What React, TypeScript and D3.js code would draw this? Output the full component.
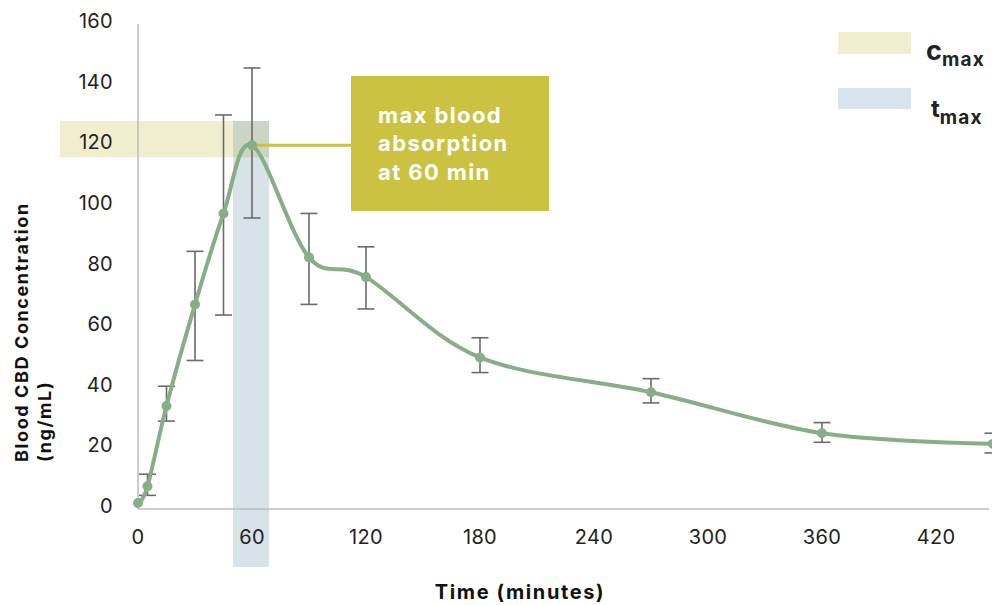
import React from "react";
import * as d3 from "d3";

// sampling times (minutes) and mean blood CBD (ng/mL)
const timeMin = [0, 5, 15, 30, 45, 60, 90, 120, 180, 270, 360, 450];
const meanConc = [2, 7.5, 34, 67.5, 97.5, 120, 83, 76.5, 50, 38.5, 25, 21.5];
const errUpper = [2, 11.5, 40.5, 85, 130, 145.5, 97.5, 86.5, 56.5, 43, 28.5, 25];
const errLower = [2, 4.5, 29, 49, 64, 96, 67.5, 66, 45, 35, 22, 18.5];

const xTicks = [0, 60, 120, 180, 240, 300, 360, 420];
const yTicks = [0, 20, 40, 60, 80, 100, 120, 140, 160];

const cmaxBand = [116, 128];
const tmaxBand = [50, 69];
const peakTime = 60;
const peakConc = 120;

const calloutLines = ["max blood", "absorption", "at 60 min"];

const WIDTH = 992;
const HEIGHT = 605;
const FONT = "Inter, 'Open Sans', sans-serif";

export default function App() {
  const x = d3.scaleLinear().domain([0, 450]).range([138, 993]);
  const y = d3.scaleLinear().domain([0, 160]).range([509, 24]);

  const pts = timeMin.map((t, i) => ({ t, v: meanConc[i], hi: errUpper[i], lo: errLower[i] }));

  const line = d3
    .line<{ t: number; v: number }>()
    .x((d) => x(d.t))
    .y((d) => y(d.v))
    .curve(d3.curveCardinal.tension(0));

  const green = "#88ad87";
  const olive = "#cbc242";

  return (
    <div style={{ position: "absolute", left: 0, top: 0 }}>
      <svg width={WIDTH} height={HEIGHT} style={{ display: "block" }} fontFamily={FONT}>
        <rect width={WIDTH} height={HEIGHT} fill="#fff" />

        {/* cmax band */}
        <rect
          x={60}
          y={y(cmaxBand[1])}
          width={x(tmaxBand[1]) - 60}
          height={y(cmaxBand[0]) - y(cmaxBand[1])}
          fill="#f1edcf"
        />
        {/* tmax band */}
        <rect
          x={x(tmaxBand[0])}
          y={y(cmaxBand[1])}
          width={x(tmaxBand[1]) - x(tmaxBand[0])}
          height={567 - y(cmaxBand[1])}
          fill="#52879f"
          opacity={0.23}
        />

        {/* axes */}
        <line x1={x(0)} x2={x(0)} y1={y(160)} y2={y(0)} stroke="#bdbdbd" strokeWidth={1.5} />
        <line x1={x(0)} x2={989} y1={y(0)} y2={y(0)} stroke="#bdbdbd" strokeWidth={1.5} />

        {yTicks.map((t) => (
          <text key={t} x={113} y={y(t) - 3} dy="0.35em" textAnchor="end" fontSize={20} letterSpacing={0.3} fill="#222">
            {t}
          </text>
        ))}
        {xTicks.map((t) => (
          <text key={t} x={x(t)} y={537} dy="0.35em" textAnchor="middle" fontSize={20} letterSpacing={0.3} fill="#222">
            {t}
          </text>
        ))}

        {/* connector + callout */}
        <line x1={x(peakTime)} x2={351} y1={y(peakConc)} y2={y(peakConc)} stroke={olive} strokeWidth={3} />
        <rect x={351} y={76} width={198} height={135} fill={olive} />
        {calloutLines.map((s, i) => (
          <text key={s} x={378} y={115 + i * 28.5} dy="0.35em" fontSize={22} letterSpacing={1.4} fontWeight={700} fill="#fff">
            {s}
          </text>
        ))}

        {/* error bars */}
        {pts
          .filter((d) => d.hi !== d.lo)
          .map((d) => (
            <g key={d.t} stroke="#6b6b6b" strokeWidth={1.6}>
              <line x1={x(d.t)} x2={x(d.t)} y1={y(d.hi)} y2={y(d.lo)} />
              <line x1={x(d.t) - 8.5} x2={x(d.t) + 8.5} y1={y(d.hi)} y2={y(d.hi)} />
              <line x1={x(d.t) - 8.5} x2={x(d.t) + 8.5} y1={y(d.lo)} y2={y(d.lo)} />
            </g>
          ))}

        <path d={line(pts) || ""} fill="none" stroke={green} strokeWidth={4} strokeLinecap="round" />
        {pts.map((d) => (
          <circle key={d.t} cx={x(d.t)} cy={y(d.v)} r={5} fill={green} />
        ))}

        {/* legend */}
        <rect x={838} y={32} width={73} height={22} fill="#f1edcf" />
        <rect x={838} y={88} width={73} height={21} fill="#d7e3ed" />
        <text x={926} y={60} fontWeight={700} fill="#222">
          <tspan fontSize={27}>c</tspan>
          <tspan fontSize={19} dy={6} letterSpacing={1.2}>max</tspan>
        </text>
        <text x={931} y={117} fontWeight={700} fill="#222">
          <tspan fontSize={24}>t</tspan>
          <tspan fontSize={19} dy={7} letterSpacing={1.2}>max</tspan>
        </text>

        {/* axis titles */}
        <text x={520} y={592} dy="0.35em" textAnchor="middle" fontSize={20} letterSpacing={1.6} fontWeight={700} fill="#111">
          Time (minutes)
        </text>
        <text transform="translate(28,462) rotate(-90)" fontSize={18} letterSpacing={1.6} fontWeight={700} fill="#111">
          Blood CBD Concentration
        </text>
        <text transform="translate(51,462) rotate(-90)" fontSize={18} letterSpacing={1.6} fontWeight={700} fill="#111">
          (ng/mL)
        </text>
      </svg>
    </div>
  );
}
